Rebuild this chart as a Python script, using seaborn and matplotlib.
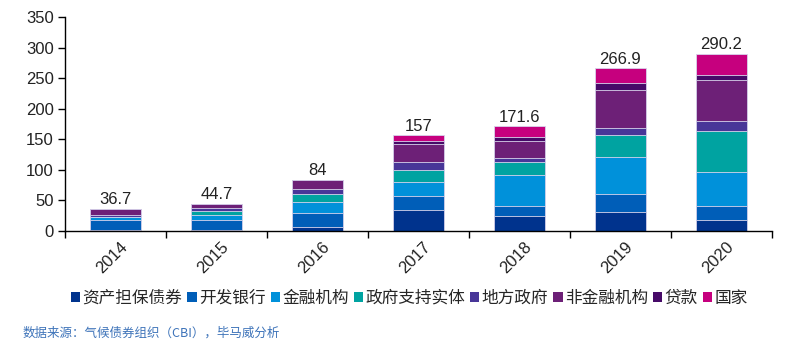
import matplotlib
matplotlib.use("Agg")
import matplotlib.pyplot as plt
from matplotlib.patches import Patch
from matplotlib.ticker import FixedLocator
import matplotlib.transforms as mtransforms
import seaborn as sns
import pandas as pd
import numpy as np

years = ["2014", "2015", "2016", "2017", "2018", "2019", "2020"]
series_names = ["资产担保债券", "开发银行", "金融机构", "政府支持实体", "地方政府", "非金融机构", "贷款", "国家"]
covered_bonds = [1.6, 1.6, 6.6, 34.2, 25.0, 30.4, 18.2]
dev_banks = [17.0, 16.4, 23.2, 23.1, 16.7, 30.4, 23.2]
fin_corp = [3.8, 8.2, 17.1, 23.1, 50.0, 59.7, 55.7]
gov_backed = [1.1, 7.1, 13.8, 19.3, 20.5, 36.5, 65.7]
local_gov = [2.7, 4.4, 7.7, 12.7, 7.2, 11.6, 17.1]
nonfin_corp = [10.5, 7.0, 15.5, 30.3, 28.3, 61.9, 67.3]
loans = [0.0, 0.0, 0.0, 3.9, 6.7, 11.6, 8.3]
sovereign = [0.0, 0.0, 0.1, 10.4, 17.2, 24.8, 34.7]
totals = [36.7, 44.7, 84, 157, 171.6, 266.9, 290.2]
total_labels = ["36.7", "44.7", "84", "157", "171.6", "266.9", "290.2"]

colors = ["#00338D", "#005EB8", "#0091DA", "#00A3A1", "#483698", "#6D2077", "#470A68", "#C6007E"]

series = [covered_bonds, dev_banks, fin_corp, gov_backed, local_gov, nonfin_corp, loans, sovereign]
cum = np.cumsum(np.array(series), axis=0)

sns.set_style("white")
plt.rcParams["font.family"] = ["Liberation Sans", "Noto Sans CJK SC", "DejaVu Sans"]

fig = plt.figure(figsize=(8, 3.52), dpi=100)
ax = fig.add_axes([65/800, 1-231/352, 707/800, 214/352])

for i in range(len(series) - 1, -1, -1):
    df = pd.DataFrame({"year": years, "value": cum[i]})
    sns.barplot(data=df, x="year", y="value", color=colors[i], width=0.5,
                edgecolor="#d8d4ec", linewidth=0.6, saturation=1, ax=ax, zorder=2)

for i, (t, lab) in enumerate(zip(totals, total_labels)):
    ax.text(i, t + 2, lab, ha="center", va="bottom", fontsize=12, color="#222222")

ax.set_xlim(-0.5, 6.5)
ax.set_ylim(0, 350)
ax.set_yticks(range(0, 351, 50))
ax.set_xlabel("")
ax.set_ylabel("")
for s in ["top", "right"]:
    ax.spines[s].set_visible(False)
for s in ["left", "bottom"]:
    ax.spines[s].set_color("black")
    ax.spines[s].set_linewidth(1.0)

ax.xaxis.set_minor_locator(FixedLocator(np.arange(-0.5, 7, 1)))
ax.tick_params(axis="x", which="major", length=0, labelsize=12, pad=6)
ax.tick_params(axis="x", which="minor", length=5, width=1, color="black", direction="out", bottom=True)
ax.tick_params(axis="y", length=5, width=1, color="black", direction="out", left=True, labelsize=12, pad=3)
offset = mtransforms.ScaledTranslation(4/100, 0, fig.dpi_scale_trans)
for lbl in ax.get_xticklabels():
    lbl.set_rotation(45)
    lbl.set_ha("right")
    lbl.set_rotation_mode("anchor")
    lbl.set_transform(lbl.get_transform() + offset)
for lbl in ax.get_yticklabels() + ax.get_xticklabels():
    lbl.set_color("#222222")

handles = [Patch(facecolor=c, edgecolor="none") for c in colors]
fig.legend(handles, series_names, loc="center left", bbox_to_anchor=(71/800, 1-298/352),
           ncol=8, frameon=False, handlelength=0.55, handleheight=0.55, handletextpad=0.15,
           columnspacing=0.3, borderaxespad=0, borderpad=0,
           prop={"family": ["Noto Sans CJK SC"], "size": 12})

fig.text(23/800, 1-333/352, "数据来源：气候债券组织（CBI），毕马威分析", ha="left", va="center",
         fontsize=9, color="#3d73b9", family=["Noto Sans CJK SC"])

fig.savefig("out.png", dpi=100)
